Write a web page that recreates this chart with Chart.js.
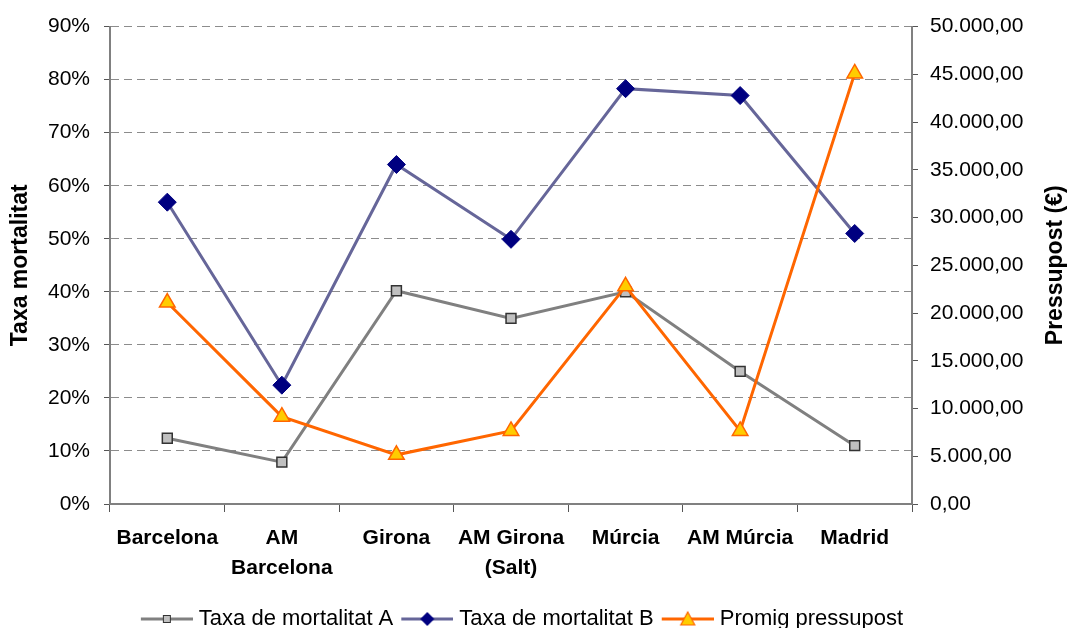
<!DOCTYPE html>
<html>
<head>
<meta charset="utf-8">
<script src="https://cdn.jsdelivr.net/npm/chart.js@4/dist/chart.umd.min.js"></script>
<style>
  body { margin: 0; background: #fff; }
</style>
</head>
<body>
<canvas id="chart" width="1068" height="628"></canvas>
<script>
const categories = ["Barcelona", ["AM", "Barcelona"], "Girona", ["AM Girona", "(Salt)"], "Múrcia", "AM Múrcia", "Madrid"];
const taxaA = [12.4, 7.9, 40.2, 35.0, 40.0, 25.0, 11.0];
const taxaB = [56.9, 22.4, 64.0, 49.9, 78.3, 77.0, 51.0];
const pressupost = [21100, 9150, 5150, 7650, 22800, 7650, 45100];
const seriesNames = ["Taxa de mortalitat A", "Taxa de mortalitat B", "Promig pressupost"];
const leftTitle = "Taxa mortalitat";
const rightTitle = "Pressupost (€)";

const FONT = "'Liberation Sans', Arial, sans-serif";
Chart.defaults.color = "#000";
Chart.defaults.font.family = FONT;

// 50000 -> "50.000,00"
function euro(v) {
  const s = Math.round(v).toString().replace(/\B(?=(\d{3})+(?!\d))/g, ".");
  return s + ",00";
}

// line+marker icons for the legend (wider than the legend box so the text sits close)
function legendIcon(lineColor, draw) {
  const c = document.createElement("canvas");
  c.width = 65; c.height = 22;
  const g = c.getContext("2d");
  g.strokeStyle = lineColor; g.lineWidth = 3;
  g.beginPath(); g.moveTo(13, 11); g.lineTo(65, 11); g.stroke();
  draw(g, 39, 11);
  return c;
}
const icons = [
  legendIcon("#808080", (g, x, y) => {
    g.fillStyle = "#c0c0c0"; g.strokeStyle = "#333"; g.lineWidth = 1;
    g.fillRect(x - 3.5, y - 3.5, 7, 7); g.strokeRect(x - 3.5, y - 3.5, 7, 7);
  }),
  legendIcon("#666699", (g, x, y) => {
    g.fillStyle = "#000080";
    g.beginPath(); g.moveTo(x, y - 7); g.lineTo(x + 7, y); g.lineTo(x, y + 7); g.lineTo(x - 7, y); g.closePath(); g.fill();
  }),
  legendIcon("#ff6600", (g, x, y) => {
    g.fillStyle = "#ffcc00"; g.strokeStyle = "#ff6600"; g.lineWidth = 1.2;
    g.beginPath(); g.moveTo(x, y - 7); g.lineTo(x + 7, y + 6); g.lineTo(x - 7, y + 6); g.closePath(); g.fill(); g.stroke();
  })
];

const rightTitlePlugin = {
  id: "rightTitle",
  afterLayout(chart) {
    // legend sits a little left of the canvas centre in the original
    if (chart.legend) chart.legend.right -= 32;
  },
  afterDraw(chart) {
    const { ctx, chartArea } = chart;
    const s = chart.scales.y1;
    ctx.save();
    ctx.translate(s.right - 12, (chartArea.top + chartArea.bottom) / 2);
    ctx.rotate(-Math.PI / 2);
    ctx.font = "bold 23px " + FONT;
    ctx.fillStyle = "#000";
    ctx.textAlign = "center";
    ctx.textBaseline = "middle";
    ctx.fillText(rightTitle, 0, 0);
    ctx.restore();
  }
};

new Chart(document.getElementById("chart"), {
  type: "line",
  data: {
    labels: categories,
    datasets: [
      {
        label: seriesNames[0],
        data: taxaA,
        yAxisID: "y",
        order: 2,
        borderColor: "#808080",
        borderWidth: 3,
        pointStyle: "rect",
        pointRadius: 7,
        pointBackgroundColor: "#c0c0c0",
        pointBorderColor: "#333333",
        pointBorderWidth: 1.5,
      },
      {
        label: seriesNames[1],
        data: taxaB,
        yAxisID: "y",
        order: 1,
        borderColor: "#666699",
        borderWidth: 3,
        pointStyle: "rectRot",
        pointRadius: 9,
        pointBackgroundColor: "#000080",
        pointBorderColor: "#000080",
        pointBorderWidth: 1,
      },
      {
        label: seriesNames[2],
        data: pressupost,
        yAxisID: "y1",
        order: 0,
        borderColor: "#ff6600",
        borderWidth: 3,
        pointStyle: "triangle",
        pointRadius: 9,
        pointBackgroundColor: "#ffcc00",
        pointBorderColor: "#ff6600",
        pointBorderWidth: 1.5,
      },
    ],
  },
  options: {
    responsive: false,
    animation: false,
    devicePixelRatio: 1,
    layout: { padding: { top: 26, left: 0, right: 0, bottom: -12 } },
    plugins: {
      tooltip: { enabled: false },
      legend: {
        position: "bottom",
        labels: {
          usePointStyle: true,
          pointStyleWidth: 55,
          padding: 0,
          font: { size: 22 },
          generateLabels: (chart) =>
            chart.data.datasets.map((ds, i) => ({
              text: ds.label,
              pointStyle: icons[i],
              datasetIndex: i,
              hidden: !chart.isDatasetVisible(i),
              lineWidth: 0,
            })),
        },
      },
    },
    scales: {
      x: {
        offset: true,
        afterFit: (s) => { s.height = 104; },
        border: { color: "#808080", width: 2 },
        grid: { offset: true, drawOnChartArea: false, tickLength: 8, color: "#555" },
        ticks: {
          autoSkip: false,
          maxRotation: 0,
          padding: 11,
          font: { size: 21, weight: "bold", lineHeight: 1.43 },
        },
      },
      y: {
        position: "left",
        min: 0,
        max: 90,
        afterFit: (s) => { s.width = 110; },
        border: { color: "#808080", width: 2, dash: [8, 5] },
        grid: { color: "#8c8c8c", lineWidth: 1, tickLength: 6, tickColor: "#555", tickBorderDash: [] },
        ticks: {
          stepSize: 10,
          padding: 14,
          font: { size: 21 },
          callback: (v) => v + "%",
        },
        title: {
          display: true,
          text: leftTitle,
          padding: { top: 7, bottom: 0 },
          font: { size: 23, weight: "bold" },
        },
      },
      y1: {
        position: "right",
        min: 0,
        max: 50000,
        afterFit: (s) => { s.width = 156; },
        border: { color: "#808080", width: 2 },
        grid: { drawOnChartArea: false, tickLength: 6, color: "#555" },
        ticks: {
          stepSize: 5000,
          padding: 12,
          font: { size: 21 },
          callback: (v) => euro(v),
        },
      },
    },
  },
  plugins: [rightTitlePlugin],
});
</script>
</body>
</html>
